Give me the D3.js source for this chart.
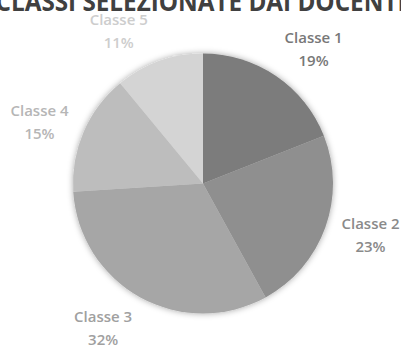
<!DOCTYPE html>
<html>
<head>
	<meta charset="utf-8">
	<title>Classi selezionate dai docenti</title>
	<script type="text/javascript" src="https://d3js.org/d3.v7.min.js"></script>
	<style>
		body{ margin: 0; background: #fff; }
		.chart text{ font-family: "Open Sans", sans-serif; }
		.title{ font-weight: 700; fill: #404040; }
		.label{ font-weight: 600; font-size: 15px; text-anchor: middle; }
	</style>
</head>
<body>
<svg class="chart"></svg>

<script type="text/javascript">
	// data
	var categories = ["Classe 1", "Classe 2", "Classe 3", "Classe 4", "Classe 5"];
	var values = [19, 23, 32, 15, 11];
	var colors = ["#7c7c7c", "#8f8f8f", "#a6a6a6", "#bdbdbd", "#d4d4d4"];
	var titleText = "CLASSI SELEZIONATE DAI DOCENTI";

	var width = 401,
		height = 347,
		cx = 203,
		cy = 183.5,
		radius = 130,
		labelRadius = 175;

	// small angle nudges (degrees) so labels sit like the original
	var labelNudge = [5, -3, 6, -2.5, -9];

	var svg = d3.select(".chart")
		.attr("width", width)
		.attr("height", height);

	// soft shadow round the pie
	var defs = svg.append("defs");
	var f = defs.append("filter").attr("id", "glow")
		.attr("x", "-20%").attr("y", "-20%").attr("width", "140%").attr("height", "140%");
	f.append("feDropShadow")
		.attr("dx", 0).attr("dy", 0)
		.attr("stdDeviation", 3)
		.attr("flood-color", "#000")
		.attr("flood-opacity", 0.35);

	// title is cut at the top edge in the original
	svg.append("text")
		.attr("class", "title")
		.attr("x", width / 2)
		.attr("y", 11)
		.attr("text-anchor", "middle")
		.attr("font-size", 26)
		.attr("textLength", 410)
		.attr("lengthAdjust", "spacingAndGlyphs")
		.text(titleText);

	var pie = d3.pie().sort(null).value(function(d){ return d; });
	var arcs = pie(values);

	var arc = d3.arc().innerRadius(0).outerRadius(radius);

	var g = svg.append("g")
		.attr("transform", "translate(" + cx + "," + cy + ")");

	g.append("g")
		.attr("filter", "url(#glow)")
		.selectAll("path")
		.data(arcs)
	  .enter().append("path")
		.attr("d", arc)
		.attr("fill", function(d, i){ return colors[i]; });

	// labels outside the pie
	var label = g.selectAll(".label")
		.data(arcs)
	  .enter().append("text")
		.attr("class", "label")
		.attr("fill", function(d, i){ return d3.color(colors[i]).darker(0.1); })
		.attr("transform", function(d, i){
			var a = (d.startAngle + d.endAngle) / 2 + labelNudge[i] * Math.PI / 180;
			var x = labelRadius * Math.sin(a),
				y = -labelRadius * Math.cos(a);
			return "translate(" + x + "," + y + ")";
		});

	label.append("tspan")
		.attr("x", 0)
		.attr("dy", "-0.35em")
		.text(function(d, i){ return categories[i]; });

	label.append("tspan")
		.attr("x", 0)
		.attr("dy", "1.55em")
		.text(function(d){ return Math.round(d.value / d3.sum(values) * 100) + "%"; });
</script>
</body>
</html>
